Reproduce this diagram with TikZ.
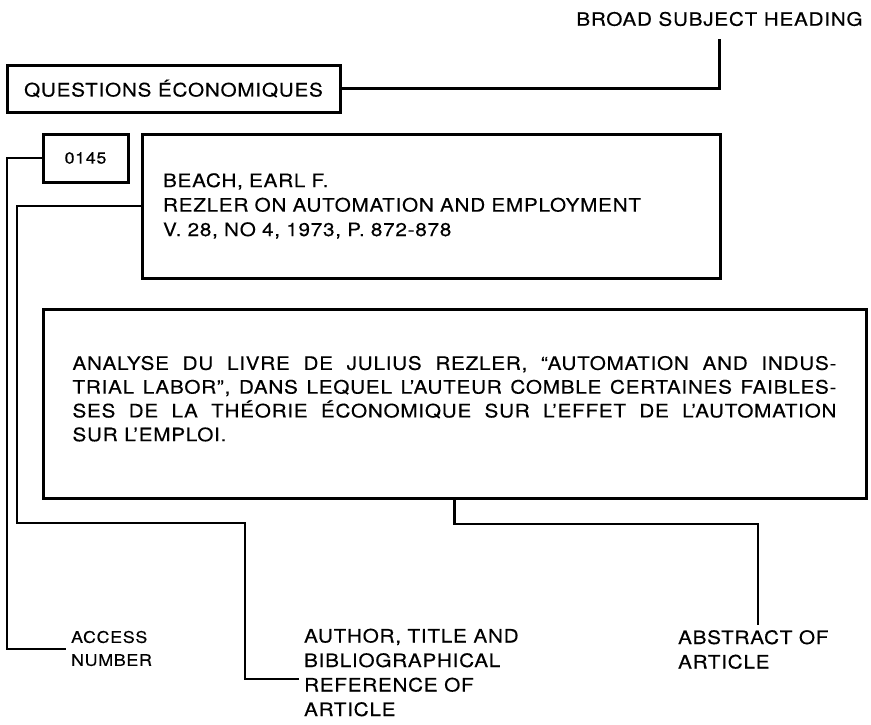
\documentclass[tikz,border=0pt]{standalone}
\usepackage{fontspec}
\setmainfont{TeX Gyre Heros}[FakeStretch=1.12,LetterSpace=4,FakeBold=0.3]
\usetikzlibrary{positioning}
\begin{document}
\begin{tikzpicture}[x=1pt, y=-1pt, line width=2.2pt,
   box/.style={draw, line width=3pt, inner sep=0pt, font=\fontsize{18.5}{24.5}\selectfont},
   smallbox/.style={draw, line width=3pt, inner sep=0pt, font=\fontsize{16}{22}\selectfont},
   tag/.style={inner sep=4pt, align=left, font=\fontsize{18.5}{24.5}\selectfont},
   smalltag/.style={inner sep=4pt, align=left, font=\fontsize{16}{23}\selectfont}
   ]
   \useasboundingbox (0,0) rectangle (871,724);

   \path (719.5,19) node[tag] (head) {BROAD SUBJECT HEADING}
   (173.5,88.5) node[box, minimum width=333pt, minimum height=47pt] (qbox) {QUESTIONS ÉCONOMIQUES};
   \path (85.5,158) node[smallbox, minimum width=85pt, minimum height=48pt] (num) {0145}
   (431,206) node[box, minimum width=578pt, minimum height=144pt, text width=536pt, align=left] (bib)
      {BEACH, EARL F.\\ REZLER ON AUTOMATION AND EMPLOYMENT\\ V. 28, NO 4, 1973, P. 872-878};
   \path (454.5,403.5) node[box, minimum width=823pt, minimum height=189pt, text width=764pt, align=justify,
      font=\fontsize{18.5}{23.8}\selectfont] (abs)
      {ANALYSE DU LIVRE DE JULIUS REZLER, ``AUTOMATION AND INDUS-\linebreak
       TRIAL LABOR'', DANS LEQUEL L'AUTEUR COMBLE CERTAINES FAIBLES-\linebreak
       SES DE LA THÉORIE ÉCONOMIQUE SUR L'EFFET DE L'AUTOMATION\linebreak
       SUR L'EMPLOI.\par\vspace{-14pt}\mbox{}};

   \path (66,648.5) node[smalltag, anchor=west] (access) {ACCESS\\ NUMBER}
   (299,672.5) node[tag, anchor=west] (author) {AUTHOR, TITLE AND\\ BIBLIOGRAPHICAL\\ REFERENCE OF\\ ARTICLE}
   (673,649.5) node[tag, anchor=west] (abslabel) {ABSTRACT OF\\ ARTICLE};

   \coordinate (a1) at (7,649);
   \coordinate (b1) at (17,523);
   \coordinate (b2) at (245,679);
   \coordinate (c1) at (758,524);

   \draw[shorten <=8pt] (head) |- (qbox);
   \draw (num.west) -| (a1) -- (access.west |- a1);
   \draw (bib.west) -| (b1) -| (b2) -- (author.west |- b2);
   \draw (abs.south) |- (c1) -- (abslabel.north -| c1);

\end{tikzpicture}
\end{document}
